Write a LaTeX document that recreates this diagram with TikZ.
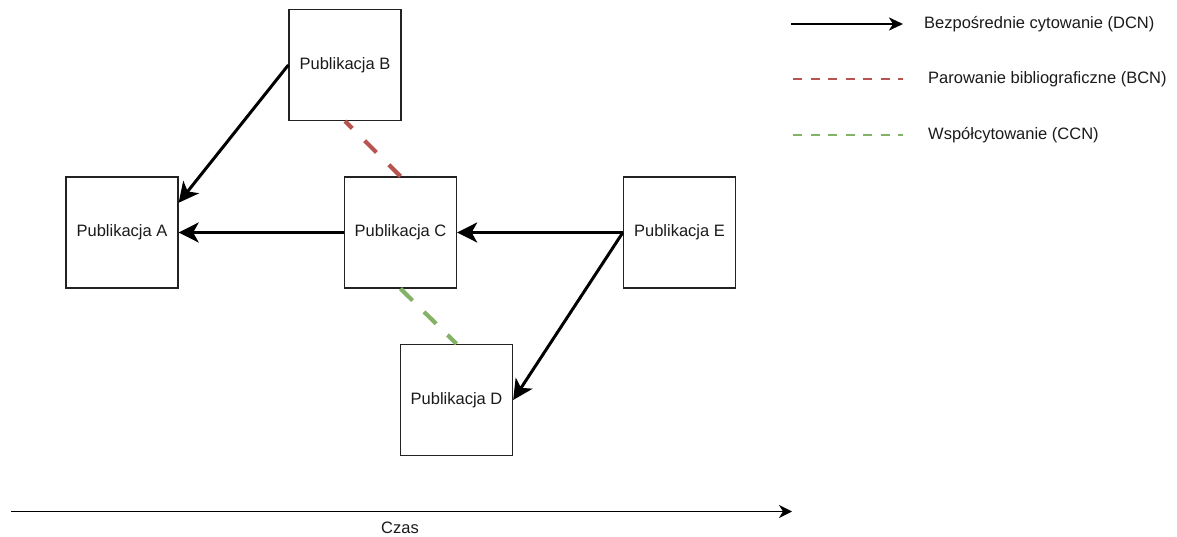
\documentclass[tikz,border=0pt]{standalone}
\usepackage{fontspec}
\setmainfont{Liberation Sans}
\usetikzlibrary{arrows.meta,calc}
\definecolor{bcnred}{HTML}{B85450}
\definecolor{ccngreen}{HTML}{82B366}
\definecolor{txt}{HTML}{1A1A1A}
\definecolor{edge}{HTML}{222222}
\begin{document}
\begin{tikzpicture}[x=1pt,y=-1pt,
  lbl/.style={text=txt, font=\fontsize{16.5}{20}\selectfont, inner sep=0pt},
  pub/.style={lbl, draw=edge, line width=1.3pt, minimum width=112pt, minimum height=111pt},
  cite/.style={line width=3pt, -{Stealth[length=20pt,width=20pt,inset=5.5pt]}},
  keycite/.style={line width=2.8pt, -{Stealth[length=14pt,width=13pt,inset=4pt]}},
  bcn/.style={draw=bcnred, line width=4.2pt, dash pattern=on 16.5pt off 17.5pt},
  ccn/.style={draw=ccngreen, line width=4.2pt, dash pattern=on 17pt off 16pt},
  keybcn/.style={draw=bcnred, line width=2.8pt, dash pattern=on 9pt off 8.5pt},
  keyccn/.style={draw=ccngreen, line width=2.8pt, dash pattern=on 9pt off 8.5pt},
  timeaxis/.style={line width=1.4pt, -{Stealth[length=13pt,width=13pt,inset=4pt]}}
]
\useasboundingbox (0,0) rectangle (1177,537);

% publications
\node[pub] (A) at (122,232.5) {Publikacja A};
\node[pub] (B) at (345,65) {Publikacja B};
\node[pub] (C) at (400.5,232.5) {Publikacja C};
\node[pub] (D) at (456.5,400) {Publikacja D};
\node[pub] (E) at (679.5,232.5) {Publikacja E};

% direct citations
\draw[cite] (B.west) -- ($(A.north east)!0.235!(A.south east)$);
\draw[cite] (C.west) -- (A.east);
\draw[cite] (E.west) -- (C.east);
\draw[cite] (E.west) -- (D.east);

% bibliographic coupling and co-citation
\draw[bcn] (C.north) -- (B.south);
\draw[ccn] (C.south) -- (D.north);

% legend
\coordinate (k1a) at (791,24);  \coordinate (k1b) at (903,24);
\coordinate (k2a) at (793,79);  \coordinate (k2b) at (903,79);
\coordinate (k3a) at (793,135); \coordinate (k3b) at (903,135);
\draw[keycite] (k1a) -- (k1b);
\draw[keybcn] (k2a) -- (k2b);
\draw[keyccn] (k3a) -- (k3b);
\node[lbl, anchor=west] (l1) at (924,24) {Bezpośrednie cytowanie (DCN)};
\node[lbl, anchor=west] (l2) at (928,79) {Parowanie bibliograficzne (BCN)};
\node[lbl, anchor=west] (l3) at (928,135) {Współcytowanie (CCN)};

% time axis
\coordinate (t0) at (11,511.5);
\coordinate (t1) at (792,511.5);
\draw[timeaxis] (t0) -- (t1);
\node[lbl] (czas) at (400,528) {Czas};
\end{tikzpicture}
\end{document}
